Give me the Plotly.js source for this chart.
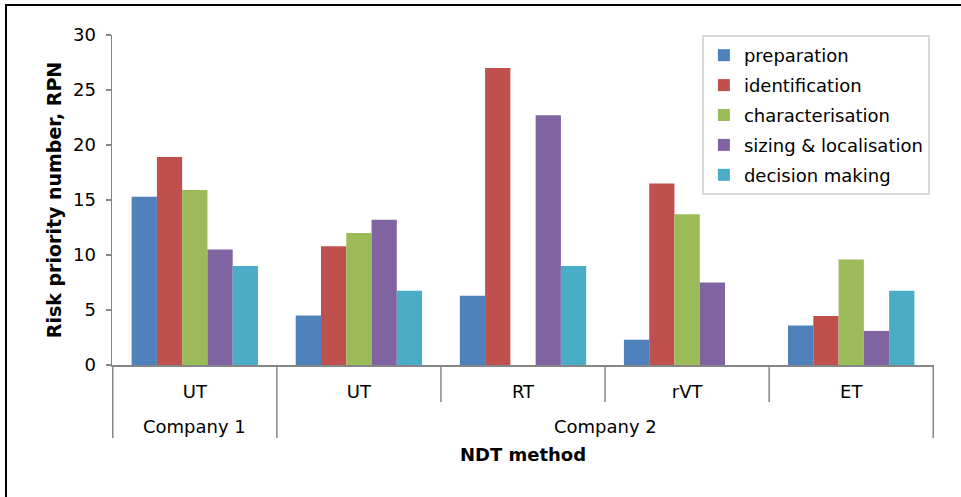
<!DOCTYPE html>
<html><head><meta charset="utf-8">
<script src="https://cdn.plot.ly/plotly-3.0.1.min.js"></script>
<style>
html,body{margin:0;padding:0;background:#fff;}
#wrap{position:relative;width:961px;height:497px;overflow:hidden;}
#chart{position:absolute;left:0;top:0;width:961px;height:497px;}
#frame{position:absolute;left:5px;top:4px;width:1000px;height:1000px;border-left:2px solid #000;border-top:2px solid #000;pointer-events:none;}
</style></head><body>
<div id="wrap"><div id="chart"></div><div id="frame"></div></div>
<script>
// ---- data ----
const companies = ['Company 1', 'Company 2', 'Company 2', 'Company 2', 'Company 2'];
const methods = ['UT', 'UT', 'RT', 'rVT', 'ET'];
const preparation = [15.3, 4.5, 6.3, 2.3, 3.6];
const identification = [18.9, 10.8, 27.0, 16.5, 4.45];
const characterisation = [15.9, 12.0, 0, 13.7, 9.6];
const sizingLocalisation = [10.5, 13.2, 22.7, 7.5, 3.1];
const decisionMaking = [9.0, 6.75, 9.0, 0, 6.75];
const seriesNames = ['preparation', 'identification', 'characterisation', 'sizing & localisation', 'decision making'];
const seriesColors = ['#4F81BD', '#C0504D', '#9BBB59', '#8064A2', '#4BACC6'];
const yTicks = [0, 5, 10, 15, 20, 25, 30];
const yTitle = 'Risk priority number, RPN';
const xTitle = 'NDT method';

// ---- build ----
const W = 961, H = 497;
const M = {l: 112, r: 27, t: 35, b: 132};
const plotH = H - M.t - M.b;
const FONT = 'DejaVu Sans, Verdana, sans-serif';
const AX = '#868686';

const keys = methods.map((m, i) => companies[i] + ' | ' + m);
const allSeries = [preparation, identification, characterisation, sizingLocalisation, decisionMaking];

const traces = allSeries.map((vals, k) => ({
  type: 'bar',
  name: seriesNames[k],
  legendgroup: 'g' + k,
  x: keys,
  y: vals,
  marker: {color: seriesColors[k], line: {width: 0}},
  hoverinfo: 'name+y'
}));

// dividers
const shapes = [];
const innerDepth = 37 / plotH, outerDepth = 73 / plotH;
for (let i = 0; i <= keys.length; i++) {
  const outer = (i === 0 || i === keys.length || companies[i] !== companies[i - 1]);
  shapes.push({
    type: 'line', xref: 'x', yref: 'paper', layer: 'above',
    x0: i - 0.5, x1: i - 0.5, y0: 0, y1: -(outer ? outerDepth : innerDepth),
    line: {color: AX, width: 1.5}
  });
}
// company labels
const annotations = [];
let start = 0;
for (let i = 1; i <= companies.length; i++) {
  if (i === companies.length || companies[i] !== companies[start]) {
    annotations.push({
      xref: 'x', yref: 'paper', x: (start + i - 1) / 2, y: -61 / plotH,
      text: companies[start], showarrow: false, xanchor: 'center', yanchor: 'middle',
      font: {family: FONT, size: 18, color: '#000'}
    });
    start = i;
  }
}

const layout = {
  width: W, height: H,
  margin: M,
  paper_bgcolor: 'rgba(0,0,0,0)', plot_bgcolor: 'rgba(0,0,0,0)',
  barmode: 'group', bargap: 0.23, bargroupgap: 0,
  showlegend: true,
  legend: {
    x: 0.995, xanchor: 'right', y: 1.0, yanchor: 'top',
    bgcolor: '#fff', bordercolor: '#d9d9d9', borderwidth: 2,
    font: {family: FONT, size: 18, color: '#000'},
    traceorder: 'grouped', tracegroupgap: 3.5
  },
  xaxis: {
    type: 'category',
    tickvals: keys, ticktext: methods,
    tickfont: {family: FONT, size: 18, color: '#000'},
    ticks: '', showline: true, linecolor: AX, linewidth: 1.5,
    showgrid: false, zeroline: false, automargin: false,
    ticklabelstandoff: 10,
    title: {text: '<b>' + xTitle + '</b>', font: {family: FONT, size: 18, color: '#000'}, standoff: 47}
  },
  yaxis: {
    range: [0, 30], tickvals: yTicks, ticktext: yTicks.map(String),
    tickfont: {family: FONT, size: 18, color: '#000'},
    ticks: 'outside', ticklen: 5, tickcolor: AX, tickwidth: 1.5,
    showline: true, linecolor: AX, linewidth: 1.5,
    showgrid: false, zeroline: false, automargin: false,
    ticklabelstandoff: 6,
    title: {text: '<b>' + yTitle + '</b>', font: {family: FONT, size: 19, color: '#000'}, standoff: 6}
  },
  shapes: shapes,
  annotations: annotations
};

Plotly.newPlot('chart', traces, layout, {displayModeBar: false, staticPlot: true});
</script>
</body></html>
